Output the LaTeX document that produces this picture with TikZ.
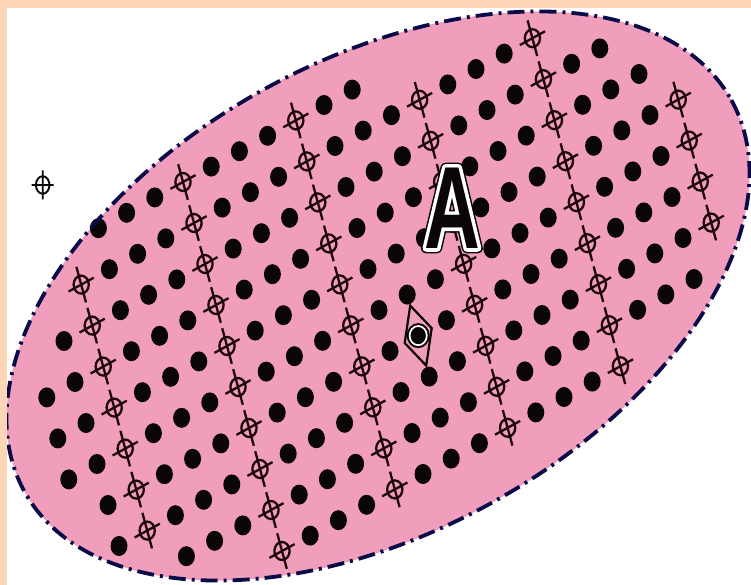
\documentclass[tikz,border=0pt]{standalone}
\usepackage{fontspec}
\usetikzlibrary{calc}
\setmainfont{Liberation Sans}
\newfontfamily\Afont{Liberation Sans}[FakeStretch=0.66]
\definecolor{peach}{HTML}{FCD6B6}
\definecolor{pinkfill}{HTML}{F19EBD}
\definecolor{navyline}{HTML}{0B0B4A}
\definecolor{crossc}{HTML}{1E060E}
\definecolor{dotc}{HTML}{0A0506}
\tikzset{
  blob/.style={fill=dotc},
  crossmark/.style={draw=crossc, line width=2.3pt},
  rim/.style={draw=navyline, line width=3.8pt, dash pattern=on 17pt off 6pt on 3pt off 6pt},
  bigletter/.style={inner sep=0pt, font=\Afont\bfseries\fontsize{117}{117}\selectfont},
}
\begin{document}
\begin{tikzpicture}[x=1pt,y=-1pt]
\useasboundingbox (0,0) rectangle (751,585);
\fill[white] (0,0) rectangle (751,585);
% big ellipse
\coordinate (E) at (378,296);
\fill[pinkfill, rotate around={29:(E)}] (E) ellipse [x radius=404, y radius=236];
% lattice of dots and crosshairs
\foreach \j/\a/\b in {0/-3/6,1/-4/12,2/-5/14,3/-6/15,4/-6/16,5/-6/16,6/-5/16,7/-5/16,8/-3/15,9/0/12}{
  \foreach \i in {\a,...,\b}{
    \pgfmathsetmacro\px{183+28.2*\i+11*\j}
    \pgfmathsetmacro\py{182-15.4*\i+41*\j}
    \pgfmathtruncatemacro\m{mod(\i+100,4)}
    \ifnum\m=0
      \draw[crossmark] (\px-4.8,\py-17.8) -- (\px+4.8,\py+17.8)
        (\px-12.6,\py+6.9) -- (\px+12.6,\py-6.9)
        (\px,\py) ellipse [x radius=7.6, y radius=9];
    \else
      \fill[blob] (\px,\py) ellipse [x radius=8.5, y radius=10];
    \fi
  }
}
% diamond with ringed dot at lattice point (6,6)
\coordinate (D) at (418.2,335.6);
\draw[line width=2.2pt, line join=miter, draw=dotc] ($(D)+(-8,-30)$) -- ($(D)+(13.5,-7.4)$) -- ($(D)+(8,30)$) -- ($(D)+(-13.5,7.4)$) -- cycle;
\fill[dotc] (D) ellipse [x radius=11.5, y radius=12.5];
\draw[white, line width=1.7pt] (D) ellipse [x radius=8.6, y radius=9.6];
% letter A: black body, white ring, thin black outer ring
\coordinate (AC) at (452,208);
\node[bigletter, text=dotc] (Aout) at (AC) {\special{pdf:literal direct q 1 Tr 10 w 0.04 0.02 0.02 RG 1 j}A\special{pdf:literal direct Q}};
\node[bigletter, text=dotc] (Aring) at (AC) {\special{pdf:literal direct q 1 Tr 7 w 1 1 1 RG 1 j}A\special{pdf:literal direct Q}};
\node[bigletter, text=dotc] (A) at (AC) {A};
% ellipse rim
\draw[rim, rotate around={29:(E)}] (E) ellipse [x radius=404, y radius=236];
% frame strips
\fill[peach] (0,0) rectangle (751,8);
\fill[peach] (0,0) rectangle (7,585);
% isolated crosshair
\coordinate (X) at (42.7,185);
\draw[line width=1.9pt, draw=dotc] ($(X)+(0,-14.5)$) -- ($(X)+(0,14.5)$)
  ($(X)+(-11,0)$) -- ($(X)+(11,0)$)
  (X) ellipse [x radius=6.8, y radius=8.8];
\end{tikzpicture}
\end{document}
